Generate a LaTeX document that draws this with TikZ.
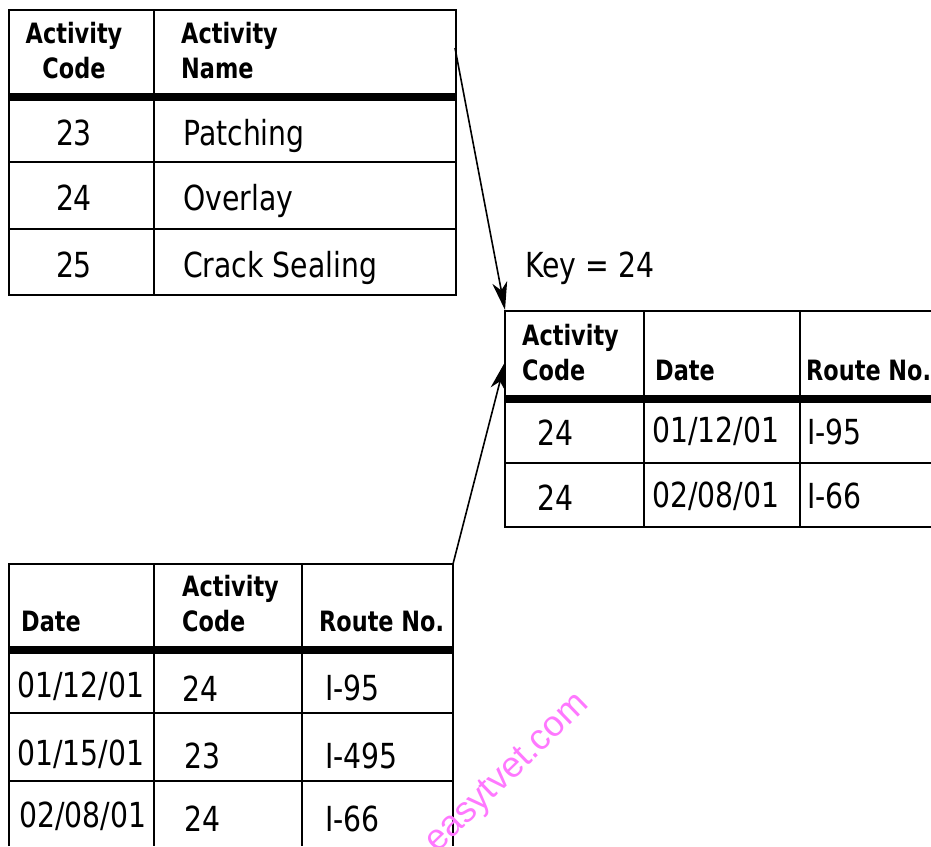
\documentclass[tikz,border=0pt]{standalone}
\usepackage{fontspec}
\setmainfont{DejaVu Sans}[FakeStretch=0.8]
\newfontfamily\cellfont{DejaVu Sans}[FakeStretch=0.82]
\newfontfamily\wmfont{Liberation Sans}
\usetikzlibrary{arrows.meta}
\begin{document}
\begin{tikzpicture}[x=1pt,y=-1pt,
  frame/.style={line width=2pt},
  gridline/.style={line width=1.5pt},
  sepline/.style={line width=7.5pt},
  hdr/.style={font=\fontsize{28}{35}\selectfont\bfseries, inner sep=0pt, align=left, anchor=base west},
  hdrc/.style={hdr, align=center, anchor=base},
  cell/.style={font=\cellfont\fontsize{34.5}{40}\selectfont, inner sep=0pt, anchor=base west},
  cellc/.style={cell, anchor=base},
  conn/.style={line width=1.6pt, -{Stealth[length=28pt,width=15pt,inset=8pt]}},
  wm/.style={font=\wmfont\fontsize{36}{40}\selectfont, text={rgb,255:red,255;green,120;blue,255}, inner sep=0pt, rotate=44, anchor=base east}]
\useasboundingbox (0,0) rectangle (931,846);

% ---- Table 1: Activity Code / Activity Name
\draw[frame] (9,10) rectangle (456,295);
\draw[gridline] (154,10) -- (154,295);
\draw[sepline] (9,97) -- (456,97);
\draw[gridline] (9,162) -- (456,162);
\draw[gridline] (9,229) -- (456,229);
\node[hdrc] (t1h1) at (74,78) {Activity\\Code};
\node[hdr] (t1h2) at (181,78) {Activity\\Name};
\node[cellc] (t1a) at (74,145) {23};
\node[cellc] (t1b) at (74,210) {24};
\node[cellc] (t1c) at (74,277) {25};
\node[cell] (t1d) at (183,145) {Patching};
\node[cell] (t1e) at (183,210) {Overlay};
\node[cell] (t1f) at (183,277) {Crack Sealing};

% ---- Table 3: result
\node[cell] (key) at (525,277) {Key = 24};
\draw[frame] (931,311) -- (505,311) -- (505,527) -- (931,527);
\draw[gridline] (644,311) -- (644,527);
\draw[gridline] (800,311) -- (800,527);
\draw[sepline] (505,399) -- (931,399);
\draw[gridline] (505,463) -- (931,463);
\node[hdr] (t3h1) at (522,380) {Activity\\Code};
\node[hdr] (t3h2) at (655,380) {Date};
\node[hdr] (t3h3) at (806,380) {Route No.};
\node[cell] (t3a) at (537,445) {24};
\node[cell] (t3b) at (652,442) {01/12/01};
\node[cell] (t3c) at (807,444) {I-95};
\node[cell] (t3d) at (537,510) {24};
\node[cell] (t3e) at (652,507) {02/08/01};
\node[cell] (t3f) at (807,508) {I-66};

% ---- Table 2: Date / Activity Code / Route No.
\draw[frame] (9,846) -- (9,564) -- (453,564) -- (453,846);
\draw[gridline] (154,564) -- (154,846);
\draw[gridline] (302,564) -- (302,846);
\draw[sepline] (9,650) -- (453,650);
\draw[gridline] (9,713) -- (453,713);
\draw[gridline] (9,781) -- (453,781);
\node[hdr] (t2h1) at (21,631) {Date};
\node[hdr] (t2h2) at (182,631) {Activity\\Code};
\node[hdr] (t2h3) at (319,631) {Route No.};
\node[cell] (t2a) at (17,697) {01/12/01};
\node[cell] (t2b) at (182,701) {24};
\node[cell] (t2c) at (325,700) {I-95};
\node[cell] (t2d) at (17,765) {01/15/01};
\node[cell] (t2e) at (184,768) {23};
\node[cell] (t2f) at (325,768) {I-495};
\node[cell] (t2g) at (19,827) {02/08/01};
\node[cell] (t2h) at (184,831) {24};
\node[cell] (t2i) at (325,831) {I-66};

% ---- connectors
\coordinate (a1s) at (455,48);
\coordinate (a1e) at (505,310);
\coordinate (a2s) at (453,564);
\coordinate (a2e) at (505,362);
\draw[conn] (a1s) -- (a1e);
\draw[conn] (a2s) -- (a2e);

% ---- watermark
\node[wm] (wmark) at (590,706) {easytvet.com};
\end{tikzpicture}
\end{document}
